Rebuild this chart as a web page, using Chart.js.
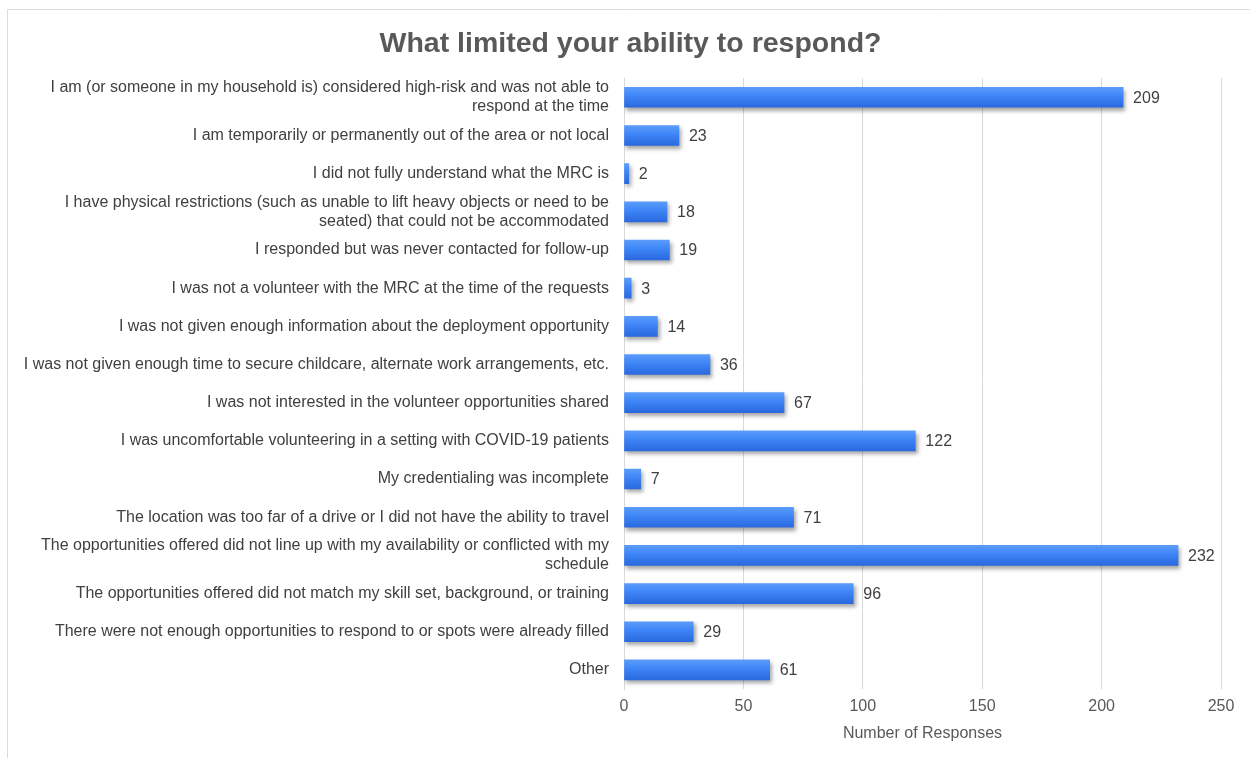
<!DOCTYPE html>
<html>
<head>
<meta charset="utf-8">
<script src="https://cdn.jsdelivr.net/npm/chart.js@4"></script>
<style>
  html, body { margin: 0; padding: 0; background: #fff; }
  #wrap { width: 1250px; height: 758px; }
</style>
</head>
<body>
<div id="wrap"><canvas id="chart" width="1250" height="758"></canvas></div>
<script>
'use strict';

const reasons = [
  ['I am (or someone in my household is) considered high-risk and was not able to', 'respond at the time'],
  'I am temporarily or permanently out of the area or not local',
  'I did not fully understand what the MRC is',
  ['I have physical restrictions (such as unable to lift heavy objects or need to be', 'seated) that could not be accommodated'],
  'I responded but was never contacted for follow-up',
  'I was not a volunteer with the MRC at the time of the requests',
  'I was not given enough information about the deployment opportunity',
  'I was not given enough time to secure childcare, alternate work arrangements, etc.',
  'I was not interested in the volunteer opportunities shared',
  'I was uncomfortable volunteering in a setting with COVID-19 patients',
  'My credentialing was incomplete',
  'The location was too far of a drive or I did not have the ability to travel',
  ['The opportunities offered did not line up with my availability or conflicted with my', 'schedule'],
  'The opportunities offered did not match my skill set, background, or training',
  'There were not enough opportunities to respond to or spots were already filled',
  'Other'
];
const responses = [209, 23, 2, 18, 19, 3, 14, 36, 67, 122, 7, 71, 232, 96, 29, 61];
const xTicks = [0, 50, 100, 150, 200, 250];

const FONT = "'Liberation Sans', Arial, Helvetica, sans-serif";
const BAR_H = 20;

// thin frame along the top and left edges
const framePlugin = {
  id: 'frame',
  beforeDraw(chart) {
    const c = chart.ctx;
    c.save();
    c.strokeStyle = '#dcdcdc';
    c.lineWidth = 1;
    c.beginPath();
    c.moveTo(7.5, chart.height);
    c.lineTo(7.5, 9.5);
    c.lineTo(chart.width, 9.5);
    c.stroke();
    c.restore();
  }
};

// nudge the title box so the heading sits a little right of centre
const titleShift = {
  id: 'titleShift',
  afterLayout(chart) {
    const t = chart.titleBlock;
    if (t) { t.left += 20; t.right += 20; }
  }
};

// soft drop shadow under the bars
const shadowPlugin = {
  id: 'barShadow',
  beforeDatasetsDraw(chart) {
    const c = chart.ctx;
    c.save();
    c.shadowColor = 'rgba(0,0,0,0.35)';
    c.shadowBlur = 4;
    c.shadowOffsetX = 2;
    c.shadowOffsetY = 3;
  },
  afterDatasetsDraw(chart) {
    chart.ctx.restore();
  }
};

// value printed just past the end of each bar
const valueLabels = {
  id: 'valueLabels',
  afterDatasetsDraw(chart) {
    const c = chart.ctx;
    const meta = chart.getDatasetMeta(0);
    c.save();
    c.font = '16px ' + FONT;
    c.fillStyle = '#404040';
    c.textBaseline = 'middle';
    c.textAlign = 'left';
    meta.data.forEach((bar, i) => {
      c.fillText(String(responses[i]), bar.x + 10, bar.y + 1);
    });
    c.restore();
  }
};

function barFill(context) {
  const chart = context.chart;
  const y = chart.scales.y;
  if (!y || context.dataIndex === undefined) return '#3b7ff2';
  const cy = y.getPixelForValue(context.dataIndex);
  if (!isFinite(cy)) return '#3b7ff2';
  const g = chart.ctx.createLinearGradient(0, cy - BAR_H / 2, 0, cy + BAR_H / 2);
  g.addColorStop(0, '#5b9cfb');
  g.addColorStop(0.45, '#3d84f6');
  g.addColorStop(1, '#2a69df');
  return g;
}

const canvas = document.querySelector('#chart');
const ctx = canvas.getContext('2d');

const chart = new Chart(ctx, {
  type: 'bar',
  data: {
    labels: reasons,
    datasets: [{
      label: 'Number of Responses',
      data: responses,
      backgroundColor: barFill,
      borderWidth: 0,
      barThickness: BAR_H
    }]
  },
  options: {
    indexAxis: 'y',
    responsive: false,
    animation: false,
    layout: { padding: { top: 8, right: 29, bottom: 11, left: 0 } },
    plugins: {
      legend: { display: false },
      tooltip: { enabled: false },
      title: {
        display: true,
        text: 'What limited your ability to respond?',
        color: '#595959',
        font: { family: FONT, size: 28.5, weight: 'bold' },
        padding: { top: 19, bottom: 17 }
      }
    },
    scales: {
      x: {
        min: 0,
        max: 250,
        afterBuildTicks(scale) {
          scale.ticks = xTicks.map(v => ({ value: v }));
        },
        afterFit(scale) { scale.height = 58; },
        grid: { color: '#d9d9d9', drawTicks: false },
        border: { display: false },
        ticks: {
          color: '#595959',
          padding: 8,
          font: { family: FONT, size: 16 }
        },
        title: {
          display: true,
          text: 'Number of Responses',
          color: '#595959',
          font: { family: FONT, size: 16 },
          padding: { top: 4, bottom: 4 }
        }
      },
      y: {
        afterFit(scale) { scale.width = 624; },
        grid: { display: false, drawTicks: false },
        border: { display: true, color: '#d9d9d9' },
        ticks: {
          color: '#404040',
          padding: 15,
          autoSkip: false,
          font: { family: FONT, size: 16 }
        }
      }
    }
  },
  plugins: [framePlugin, titleShift, shadowPlugin, valueLabels]
});
chart.update();
</script>
</body>
</html>
